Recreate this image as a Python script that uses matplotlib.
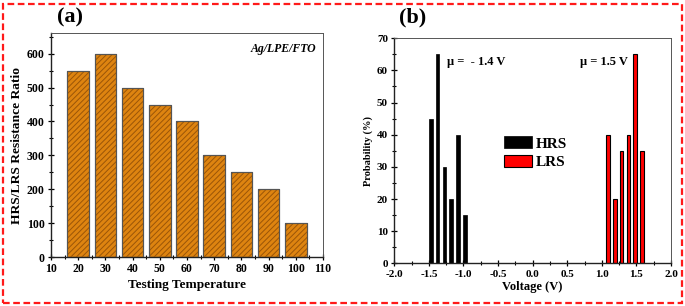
import matplotlib
matplotlib.use("Agg")
import matplotlib.pyplot as plt
from matplotlib.patches import Rectangle
from matplotlib.ticker import MultipleLocator, FormatStrFormatter

plt.rcParams['font.family'] = ['Liberation Serif', 'DejaVu Serif']
plt.rcParams['font.weight'] = 'bold'
plt.rcParams['hatch.linewidth'] = 0.7

# panel (a) data
temps = [20, 30, 40, 50, 60, 70, 80, 90, 100]
ratio = [550, 600, 500, 450, 400, 300, 250, 200, 100]

# panel (b) data (bin centres)
hrs_v = [-1.475, -1.375, -1.275, -1.175, -1.075, -0.975]
hrs_p = [45, 65, 30, 20, 40, 15]
lrs_v = [1.085, 1.185, 1.285, 1.385, 1.485, 1.585]
lrs_p = [40, 20, 35, 40, 65, 35]

fig = plt.figure(figsize=(6.85, 3.06), dpi=100)
fig.patch.set_facecolor('white')

def style_axes(ax, lsize):
    for s in ['left', 'bottom']:
        ax.spines[s].set_linewidth(1.0)
        ax.spines[s].set_color('#222222')
    for s in ['top', 'right']:
        ax.spines[s].set_linewidth(0.7)
        ax.spines[s].set_color('#555555')
    ax.tick_params(which='major', direction='inout', length=5, width=0.9,
                   labelsize=lsize, top=False, right=False, pad=2)
    ax.tick_params(which='minor', direction='inout', length=3, width=0.8,
                   top=False, right=False)
    for lab in ax.get_xticklabels() + ax.get_yticklabels():
        lab.set_fontweight('bold')

# ---- (a) ----
ax1 = fig.add_axes([0.0745, 0.160, 0.397, 0.731])
ax1.bar(temps, ratio, width=8, color='#DE8410', edgecolor='#555555', linewidth=0.8, zorder=2)
ax1.bar(temps, ratio, width=8, facecolor='none', edgecolor='#9A5508', hatch='//////',
        linewidth=0, zorder=3)
ax1.bar(temps, ratio, width=8, facecolor='none', edgecolor='#555555', linewidth=0.8, zorder=4)
ax1.set_xlim(10, 110)
ax1.set_ylim(0, 660)
ax1.xaxis.set_major_locator(MultipleLocator(10))
ax1.xaxis.set_minor_locator(MultipleLocator(5))
ax1.yaxis.set_major_locator(MultipleLocator(100))
ax1.yaxis.set_minor_locator(MultipleLocator(50))
style_axes(ax1, 8.5)
ax1.set_xlabel('Testing Temperature', fontsize=9.5, fontweight='bold', labelpad=3)
ax1.set_ylabel('HRS/LRS Resistance Ratio', fontsize=9.7, fontweight='bold', labelpad=3)
ax1.text(0.975, 0.93, 'Ag/LPE/FTO', transform=ax1.transAxes, ha='right', va='center',
         fontsize=8.5, fontweight='bold', style='italic')

# ---- (b) ----
ax2 = fig.add_axes([0.5756, 0.1395, 0.404, 0.7355])
ax2.bar(hrs_v, hrs_p, width=0.055, color='black', edgecolor='black', linewidth=0.5,
        label='HRS', zorder=2)
ax2.bar(lrs_v, lrs_p, width=0.055, color='#FF0000', edgecolor='black', linewidth=0.8,
        label='LRS', zorder=2)
ax2.set_xlim(-2, 2)
ax2.set_ylim(0, 70)
ax2.xaxis.set_major_locator(MultipleLocator(0.5))
ax2.xaxis.set_minor_locator(MultipleLocator(0.25))
ax2.yaxis.set_major_locator(MultipleLocator(10))
ax2.yaxis.set_minor_locator(MultipleLocator(5))
ax2.xaxis.set_major_formatter(FormatStrFormatter('%.1f'))
style_axes(ax2, 8)
ax2.set_xlabel('Voltage (V)', fontsize=9, fontweight='bold', labelpad=2)
ax2.set_ylabel('Probability (%)', fontsize=7.5, fontweight='bold', labelpad=3)
ax2.text(-1.24, 62.7, 'μ =  - 1.4 V', ha='left', va='center', fontsize=9, fontweight='bold')
ax2.text(0.68, 62.7, 'μ = 1.5 V', ha='left', va='center', fontsize=9, fontweight='bold')
leg = ax2.legend(loc='upper left', bbox_to_anchor=(0.395, 0.565), frameon=False,
                 fontsize=11, handlelength=1.85, handleheight=0.85, handletextpad=0.25,
                 labelspacing=0.3, borderpad=0, borderaxespad=0)
for t in leg.get_texts():
    t.set_fontweight('bold')

# panel letters
fig.text(70 / 685, 1 - 17 / 306, '(a)', fontsize=16, fontweight='bold', ha='center', va='center')
fig.text(413 / 685, 1 - 17 / 306, '(b)', fontsize=16, fontweight='bold', ha='center', va='center')

# red dashed frame
fig.patches.append(Rectangle((3 / 685, 3 / 306), 679 / 685, 299 / 306, transform=fig.transFigure,
                             fill=False, edgecolor='#FF1A1A', linewidth=1.6,
                             linestyle=(0, (3, 1.6))))

fig.savefig('out.png', dpi=100, facecolor='white')
